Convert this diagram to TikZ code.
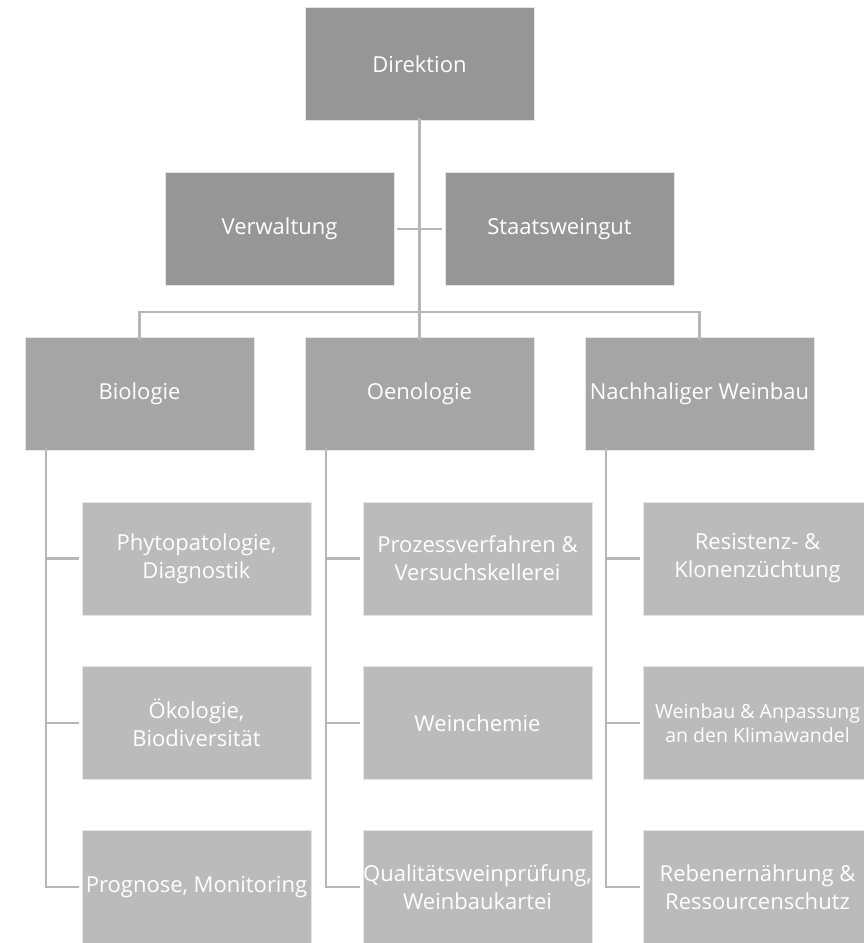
\documentclass[tikz,border=0pt]{standalone}
\usepackage{fontspec}
\setmainfont{Open Sans}
\usetikzlibrary{positioning,calc}
\definecolor{boxA}{RGB}{150,150,150}
\definecolor{boxB}{RGB}{165,165,165}
\definecolor{boxC}{RGB}{187,187,187}
\definecolor{linegray}{RGB}{182,182,182}
\begin{document}
\begin{tikzpicture}[x=1pt,y=-1pt,
  unit/.style={shape=rectangle,draw=black!10,line width=.6pt,text=white,align=center,
    minimum width=229pt,minimum height=113pt,inner sep=0pt,font=\fontsize{22}{28}\selectfont},
  lead/.style={unit,fill=boxA},
  dept/.style={unit,fill=boxB},
  grp/.style={unit,fill=boxC},
  link/.style={draw=linegray,line width=2.2pt}]
  \useasboundingbox (0,0) rectangle (864,943);
  % top levels
  \node[lead] (dir) at (419.5,64) {Direktion};
  \node[lead] (verw) at (279.5,229) {Verwaltung};
  \node[lead] (staat) at (559.5,229) {Staatsweingut};
  \node[dept] (bio) at (139.5,393.5) {Biologie};
  \node[dept] (oeno) at (419.5,393.5) {Oenologie};
  \node[dept] (nach) at (699.5,393.5) {Nachhaliger Weinbau};
  % groups
  \node[grp] (bio-1) at (196.5,558.5) {Phytopatologie,\\Diagnostik};
  \node[grp] (bio-2) at (196.5,723) {Ökologie,\\Biodiversität};
  \node[grp] (bio-3) at (196.5,887) {Prognose, Monitoring};
  \node[grp] (oeno-1) at (477.5,558.5) {Prozessverfahren \&\\Versuchskellerei};
  \node[grp] (oeno-2) at (477.5,723) {Weinchemie};
  \node[grp] (oeno-3) at (477.5,887) {Qualitätsweinprüfung,\\Weinbaukartei};
  \node[grp] (nach-1) at (757.5,558.5) {Resistenz- \&\\Klonenzüchtung};
  \node[grp,font=\fontsize{19.5}{24}\selectfont] (nach-2) at (757.5,723) {Weinbau \& Anpassung\\an den Klimawandel};
  \node[grp] (nach-3) at (757.5,887) {Rebenernährung \&\\Ressourcenschutz};
  \coordinate (bar) at (419.5,312);
  % connectors
  \draw[link] ([yshift=3pt]dir.south) -- ([yshift=-3pt]oeno.north);
  \draw[link] ([xshift=3pt]verw.east) -- ([xshift=-3pt]staat.west);
  \draw[link] ([yshift=-3pt]bio.north) |- (bar) -| ([yshift=-3pt]nach.north);
  \foreach \d in {bio,oeno,nach}{
    \draw[link] ([xshift=21pt,yshift=3pt]\d.south west) |- ([xshift=-3pt]\d-3.west);
    \foreach \i in {1,2}
      \draw[link] ([xshift=21pt]\d.south west |- \d-\i.west) -- ([xshift=-3pt]\d-\i.west);
  }
\end{tikzpicture}
\end{document}
